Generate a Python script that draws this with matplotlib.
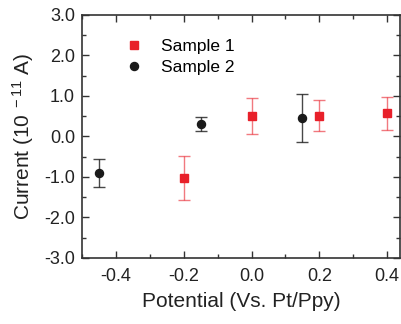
import matplotlib
matplotlib.use("Agg")
import matplotlib.pyplot as plt
from matplotlib.ticker import MultipleLocator

plt.rcParams['font.family'] = ['Liberation Sans', 'DejaVu Sans']
plt.rcParams['mathtext.fontset'] = 'custom'
plt.rcParams['mathtext.rm'] = 'Liberation Sans'
plt.rcParams['mathtext.it'] = 'Liberation Sans'
plt.rcParams['axes.unicode_minus'] = False

s1_x = [-0.2, 0.0, 0.2, 0.4]
s1_y = [-1.02, 0.50, 0.51, 0.57]
s1_err = [0.54, 0.45, 0.38, 0.40]

s2_x = [-0.45, -0.15, 0.15]
s2_y = [-0.91, 0.31, 0.45]
s2_err = [0.34, 0.18, 0.60]

xticks = [-0.4, -0.2, 0.0, 0.2, 0.4]
xticklabels = ['-0.4', '-0.2', '0.0', '0.2', '0.4']
yticks = [-3, -2, -1, 0, 1, 2, 3]
yticklabels = ['-3.0', '-2.0', '-1.0', '0.0', '1.0', '2.0', '3.0']

red = '#e8202a'
black = '#1a1a1a'

fig = plt.figure(figsize=(4.01, 3.24), dpi=100)
ax = fig.add_axes([0.2045, 0.204, 0.793, 0.75])

ax.errorbar(s1_x, s1_y, yerr=s1_err, fmt='none', ecolor=red, alpha=0.6,
            elinewidth=1.0, capsize=4, capthick=1.0)
ax.errorbar(s2_x, s2_y, yerr=s2_err, fmt='none', ecolor=black, alpha=0.8,
            elinewidth=1.0, capsize=4, capthick=1.0)
ax.plot(s1_x, s1_y, 's', color=red, ms=5.5, mec=red, label='Sample 1', linestyle='none')
ax.plot(s2_x, s2_y, 'o', color=black, ms=5.8, label='Sample 2', linestyle='none')

ax.set_xlim(-0.5, 0.438)
ax.set_ylim(-3.0, 3.0)
ax.xaxis.set_minor_locator(MultipleLocator(0.1))
ax.yaxis.set_minor_locator(MultipleLocator(0.5))
ax.set_xticks(xticks)
ax.set_xticklabels(xticklabels)
ax.set_yticks(yticks)
ax.set_yticklabels(yticklabels)
ax.tick_params(which='both', direction='in', top=True, right=True,
               labelsize=13, color='#333333', width=1.0, labelcolor='#222222')
ax.tick_params(which='major', length=5)
ax.tick_params(axis='x', which='major', pad=7)
ax.tick_params(axis='y', which='major', pad=5)
ax.tick_params(which='minor', length=3)
for sp in ax.spines.values():
    sp.set_linewidth(1.2)
    sp.set_color('#333333')

ax.set_xlabel('Potential (Vs. Pt/Ppy)', fontsize=15, labelpad=5, color='#222222')
ax.set_ylabel('Current (10$^{\\ -11}$ A)', fontsize=15, labelpad=6, color='#222222')

leg = ax.legend(loc='upper left', bbox_to_anchor=(0.113, 0.93), frameon=False,
                fontsize=12.5, handletextpad=1.1, labelspacing=0.35,
                handlelength=1.0, borderaxespad=0, markerscale=1.0)

fig.savefig('out.png', dpi=100)
